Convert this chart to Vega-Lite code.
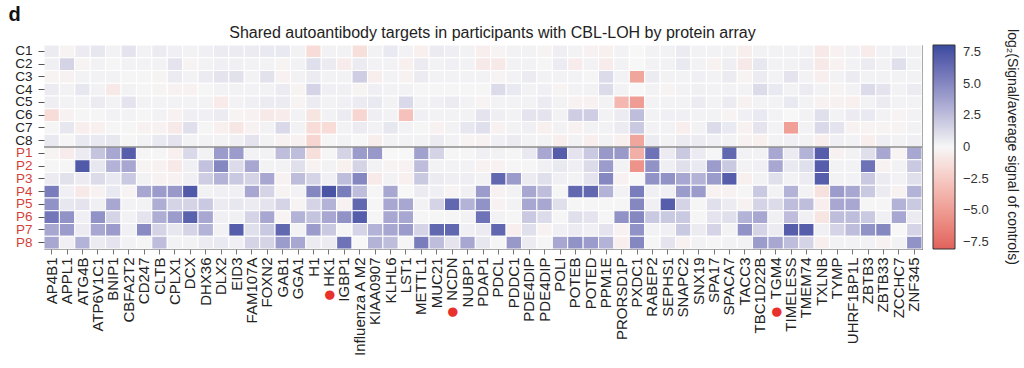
{
"$schema": "https://vega.github.io/schema/vega-lite/v6.json",
"width": 878, "height": 204,
"autosize": {"type": "none"},
"padding": {"left": 44, "top": 45, "right": 102, "bottom": 119},
"background": "white",
"config": {"view": {"stroke": "#555", "strokeWidth": 1}, "font": "Liberation Sans"},
"data": {"values": [
{"r":"C1","g":"AP4B1","v":0.5},{"r":"C1","g":"APPL1","v":-0.2},{"r":"C1","g":"ATG4B","v":0.5},{"r":"C1","g":"ATP6V1C1","v":0.7},{"r":"C1","g":"BNIP1","v":0.2},{"r":"C1","g":"CBFA2T2","v":0.8},{"r":"C1","g":"CD247","v":0.2},{"r":"C1","g":"CLTB","v":0.5},{"r":"C1","g":"CPLX1","v":0.3},{"r":"C1","g":"DCX","v":0.2},{"r":"C1","g":"DHX36","v":0.3},{"r":"C1","g":"DLX2","v":0.5},{"r":"C1","g":"EID3","v":0.5},{"r":"C1","g":"FAM107A","v":0.5},{"r":"C1","g":"FOXN2","v":0.6},{"r":"C1","g":"GAB1","v":0.6},{"r":"C1","g":"GGA1","v":0.2},{"r":"C1","g":"H1","v":-1.5},{"r":"C1","g":"HK1","v":0.2},{"r":"C1","g":"IGBP1","v":0.2},{"r":"C1","g":"Influenza A M2","v":-1.3},{"r":"C1","g":"KIAA0907","v":0.2},{"r":"C1","g":"KLHL6","v":0.6},{"r":"C1","g":"LST1","v":0.2},{"r":"C1","g":"METTL1","v":-0.4},{"r":"C1","g":"MUC21","v":0.5},{"r":"C1","g":"NCDN","v":0.4},{"r":"C1","g":"NUBP1","v":0.2},{"r":"C1","g":"PDAP1","v":-0.5},{"r":"C1","g":"PDCL","v":-0.2},{"r":"C1","g":"PDDC1","v":0.2},{"r":"C1","g":"PDE4DIP","v":0.2},{"r":"C1","g":"PDE4DIP_2","v":-0.2},{"r":"C1","g":"POLI","v":0.4},{"r":"C1","g":"POTEB","v":0.2},{"r":"C1","g":"POTED","v":-0.3},{"r":"C1","g":"PPM1E","v":-0.4},{"r":"C1","g":"PRORSD1P","v":0.2},{"r":"C1","g":"PXDC1","v":0},{"r":"C1","g":"RABEP2","v":0.2},{"r":"C1","g":"SEPHS1","v":0.2},{"r":"C1","g":"SNAPC2","v":0.5},{"r":"C1","g":"SNX19","v":0.2},{"r":"C1","g":"SPA17","v":0.2},{"r":"C1","g":"SPACA7","v":0.2},{"r":"C1","g":"TACC3","v":-0.5},{"r":"C1","g":"TBC1D22B","v":0.2},{"r":"C1","g":"TGM4","v":0.2},{"r":"C1","g":"TIMELESS","v":0.2},{"r":"C1","g":"TMEM74","v":0.2},{"r":"C1","g":"TXLNB","v":-0.8},{"r":"C1","g":"TYMP","v":-0.3},{"r":"C1","g":"UHRF1BP1L","v":0.2},{"r":"C1","g":"ZBTB3","v":-0.6},{"r":"C1","g":"ZBTB33","v":0.2},{"r":"C1","g":"ZCCHC7","v":0.3},{"r":"C1","g":"ZNF345","v":0.2},
{"r":"C2","g":"AP4B1","v":0.3},{"r":"C2","g":"APPL1","v":1.5},{"r":"C2","g":"ATG4B","v":-0.2},{"r":"C2","g":"ATP6V1C1","v":0.2},{"r":"C2","g":"BNIP1","v":0.1},{"r":"C2","g":"CBFA2T2","v":0.2},{"r":"C2","g":"CD247","v":0.2},{"r":"C2","g":"CLTB","v":0.2},{"r":"C2","g":"CPLX1","v":0.8},{"r":"C2","g":"DCX","v":-0.2},{"r":"C2","g":"DHX36","v":0.2},{"r":"C2","g":"DLX2","v":0.3},{"r":"C2","g":"EID3","v":0.3},{"r":"C2","g":"FAM107A","v":0.2},{"r":"C2","g":"FOXN2","v":0.2},{"r":"C2","g":"GAB1","v":-0.2},{"r":"C2","g":"GGA1","v":0.2},{"r":"C2","g":"H1","v":1.0},{"r":"C2","g":"HK1","v":0.5},{"r":"C2","g":"IGBP1","v":-0.6},{"r":"C2","g":"Influenza A M2","v":0.5},{"r":"C2","g":"KIAA0907","v":0.2},{"r":"C2","g":"KLHL6","v":0.2},{"r":"C2","g":"LST1","v":-0.4},{"r":"C2","g":"METTL1","v":0.5},{"r":"C2","g":"MUC21","v":0.2},{"r":"C2","g":"NCDN","v":0.3},{"r":"C2","g":"NUBP1","v":0.2},{"r":"C2","g":"PDAP1","v":-0.8},{"r":"C2","g":"PDCL","v":-0.8},{"r":"C2","g":"PDDC1","v":0.2},{"r":"C2","g":"PDE4DIP","v":0.2},{"r":"C2","g":"PDE4DIP_2","v":0.1},{"r":"C2","g":"POLI","v":0.5},{"r":"C2","g":"POTEB","v":-0.6},{"r":"C2","g":"POTED","v":0.2},{"r":"C2","g":"PPM1E","v":-0.6},{"r":"C2","g":"PRORSD1P","v":0.2},{"r":"C2","g":"PXDC1","v":0},{"r":"C2","g":"RABEP2","v":0.2},{"r":"C2","g":"SEPHS1","v":0.2},{"r":"C2","g":"SNAPC2","v":0.6},{"r":"C2","g":"SNX19","v":0.2},{"r":"C2","g":"SPA17","v":-0.3},{"r":"C2","g":"SPACA7","v":0.4},{"r":"C2","g":"TACC3","v":-0.8},{"r":"C2","g":"TBC1D22B","v":0.7},{"r":"C2","g":"TGM4","v":0.2},{"r":"C2","g":"TIMELESS","v":0.2},{"r":"C2","g":"TMEM74","v":0.4},{"r":"C2","g":"TXLNB","v":-0.8},{"r":"C2","g":"TYMP","v":-0.3},{"r":"C2","g":"UHRF1BP1L","v":0.2},{"r":"C2","g":"ZBTB3","v":0.5},{"r":"C2","g":"ZBTB33","v":0.2},{"r":"C2","g":"ZCCHC7","v":1.0},{"r":"C2","g":"ZNF345","v":0.2},
{"r":"C3","g":"AP4B1","v":-0.2},{"r":"C3","g":"APPL1","v":-0.3},{"r":"C3","g":"ATG4B","v":0.2},{"r":"C3","g":"ATP6V1C1","v":0.2},{"r":"C3","g":"BNIP1","v":0.2},{"r":"C3","g":"CBFA2T2","v":0.1},{"r":"C3","g":"CD247","v":0.1},{"r":"C3","g":"CLTB","v":-0.2},{"r":"C3","g":"CPLX1","v":0.5},{"r":"C3","g":"DCX","v":0.2},{"r":"C3","g":"DHX36","v":0.5},{"r":"C3","g":"DLX2","v":0.8},{"r":"C3","g":"EID3","v":0.9},{"r":"C3","g":"FAM107A","v":0.2},{"r":"C3","g":"FOXN2","v":0.9},{"r":"C3","g":"GAB1","v":-0.3},{"r":"C3","g":"GGA1","v":0.2},{"r":"C3","g":"H1","v":0.5},{"r":"C3","g":"HK1","v":0.2},{"r":"C3","g":"IGBP1","v":0.2},{"r":"C3","g":"Influenza A M2","v":1.8},{"r":"C3","g":"KIAA0907","v":-0.5},{"r":"C3","g":"KLHL6","v":0.2},{"r":"C3","g":"LST1","v":-0.3},{"r":"C3","g":"METTL1","v":0.5},{"r":"C3","g":"MUC21","v":0.2},{"r":"C3","g":"NCDN","v":0.2},{"r":"C3","g":"NUBP1","v":0.2},{"r":"C3","g":"PDAP1","v":0.2},{"r":"C3","g":"PDCL","v":-0.2},{"r":"C3","g":"PDDC1","v":0.2},{"r":"C3","g":"PDE4DIP","v":0.5},{"r":"C3","g":"PDE4DIP_2","v":0.2},{"r":"C3","g":"POLI","v":0.2},{"r":"C3","g":"POTEB","v":0.2},{"r":"C3","g":"POTED","v":0.1},{"r":"C3","g":"PPM1E","v":1.2},{"r":"C3","g":"PRORSD1P","v":0.2},{"r":"C3","g":"PXDC1","v":-4.5},{"r":"C3","g":"RABEP2","v":0.5},{"r":"C3","g":"SEPHS1","v":0.2},{"r":"C3","g":"SNAPC2","v":0.2},{"r":"C3","g":"SNX19","v":0.3},{"r":"C3","g":"SPA17","v":0.2},{"r":"C3","g":"SPACA7","v":0.5},{"r":"C3","g":"TACC3","v":-0.2},{"r":"C3","g":"TBC1D22B","v":0.5},{"r":"C3","g":"TGM4","v":0.2},{"r":"C3","g":"TIMELESS","v":0.8},{"r":"C3","g":"TMEM74","v":0.2},{"r":"C3","g":"TXLNB","v":-0.5},{"r":"C3","g":"TYMP","v":0.2},{"r":"C3","g":"UHRF1BP1L","v":0.5},{"r":"C3","g":"ZBTB3","v":0.2},{"r":"C3","g":"ZBTB33","v":0.2},{"r":"C3","g":"ZCCHC7","v":0.2},{"r":"C3","g":"ZNF345","v":0.2},
{"r":"C4","g":"AP4B1","v":0.5},{"r":"C4","g":"APPL1","v":0.2},{"r":"C4","g":"ATG4B","v":0.7},{"r":"C4","g":"ATP6V1C1","v":0.2},{"r":"C4","g":"BNIP1","v":-0.8},{"r":"C4","g":"CBFA2T2","v":0.2},{"r":"C4","g":"CD247","v":0.1},{"r":"C4","g":"CLTB","v":-0.2},{"r":"C4","g":"CPLX1","v":-0.3},{"r":"C4","g":"DCX","v":-0.3},{"r":"C4","g":"DHX36","v":0.1},{"r":"C4","g":"DLX2","v":0.2},{"r":"C4","g":"EID3","v":0.2},{"r":"C4","g":"FAM107A","v":0.2},{"r":"C4","g":"FOXN2","v":0.2},{"r":"C4","g":"GAB1","v":0.5},{"r":"C4","g":"GGA1","v":-0.2},{"r":"C4","g":"H1","v":1.5},{"r":"C4","g":"HK1","v":0.3},{"r":"C4","g":"IGBP1","v":0.3},{"r":"C4","g":"Influenza A M2","v":-0.2},{"r":"C4","g":"KIAA0907","v":0.3},{"r":"C4","g":"KLHL6","v":0.2},{"r":"C4","g":"LST1","v":0.2},{"r":"C4","g":"METTL1","v":0.1},{"r":"C4","g":"MUC21","v":0.1},{"r":"C4","g":"NCDN","v":0.1},{"r":"C4","g":"NUBP1","v":0.1},{"r":"C4","g":"PDAP1","v":0.1},{"r":"C4","g":"PDCL","v":1.2},{"r":"C4","g":"PDDC1","v":0.6},{"r":"C4","g":"PDE4DIP","v":0.2},{"r":"C4","g":"PDE4DIP_2","v":0.3},{"r":"C4","g":"POLI","v":-0.2},{"r":"C4","g":"POTEB","v":0.2},{"r":"C4","g":"POTED","v":0.2},{"r":"C4","g":"PPM1E","v":1.2},{"r":"C4","g":"PRORSD1P","v":0.2},{"r":"C4","g":"PXDC1","v":0},{"r":"C4","g":"RABEP2","v":0.2},{"r":"C4","g":"SEPHS1","v":-0.2},{"r":"C4","g":"SNAPC2","v":0.2},{"r":"C4","g":"SNX19","v":0.3},{"r":"C4","g":"SPA17","v":0.2},{"r":"C4","g":"SPACA7","v":0.2},{"r":"C4","g":"TACC3","v":0.2},{"r":"C4","g":"TBC1D22B","v":1.2},{"r":"C4","g":"TGM4","v":0.6},{"r":"C4","g":"TIMELESS","v":0.2},{"r":"C4","g":"TMEM74","v":0.5},{"r":"C4","g":"TXLNB","v":0.2},{"r":"C4","g":"TYMP","v":-0.2},{"r":"C4","g":"UHRF1BP1L","v":0.2},{"r":"C4","g":"ZBTB3","v":1.2},{"r":"C4","g":"ZBTB33","v":0.8},{"r":"C4","g":"ZCCHC7","v":0.2},{"r":"C4","g":"ZNF345","v":0.5},
{"r":"C5","g":"AP4B1","v":0.4},{"r":"C5","g":"APPL1","v":0.2},{"r":"C5","g":"ATG4B","v":0.2},{"r":"C5","g":"ATP6V1C1","v":0.5},{"r":"C5","g":"BNIP1","v":0.2},{"r":"C5","g":"CBFA2T2","v":0.8},{"r":"C5","g":"CD247","v":0.2},{"r":"C5","g":"CLTB","v":0.2},{"r":"C5","g":"CPLX1","v":0.2},{"r":"C5","g":"DCX","v":0.2},{"r":"C5","g":"DHX36","v":0.2},{"r":"C5","g":"DLX2","v":-0.7},{"r":"C5","g":"EID3","v":0.2},{"r":"C5","g":"FAM107A","v":0.3},{"r":"C5","g":"FOXN2","v":0.5},{"r":"C5","g":"GAB1","v":0.5},{"r":"C5","g":"GGA1","v":-0.2},{"r":"C5","g":"H1","v":0.5},{"r":"C5","g":"HK1","v":0.2},{"r":"C5","g":"IGBP1","v":0.3},{"r":"C5","g":"Influenza A M2","v":0.5},{"r":"C5","g":"KIAA0907","v":0.6},{"r":"C5","g":"KLHL6","v":0.2},{"r":"C5","g":"LST1","v":1.3},{"r":"C5","g":"METTL1","v":0.2},{"r":"C5","g":"MUC21","v":0.3},{"r":"C5","g":"NCDN","v":0.5},{"r":"C5","g":"NUBP1","v":0.2},{"r":"C5","g":"PDAP1","v":-0.2},{"r":"C5","g":"PDCL","v":0.2},{"r":"C5","g":"PDDC1","v":0.2},{"r":"C5","g":"PDE4DIP","v":0.2},{"r":"C5","g":"PDE4DIP_2","v":0.5},{"r":"C5","g":"POLI","v":0.2},{"r":"C5","g":"POTEB","v":-0.3},{"r":"C5","g":"POTED","v":-0.3},{"r":"C5","g":"PPM1E","v":0.2},{"r":"C5","g":"PRORSD1P","v":-3.5},{"r":"C5","g":"PXDC1","v":-5.0},{"r":"C5","g":"RABEP2","v":0.2},{"r":"C5","g":"SEPHS1","v":0.2},{"r":"C5","g":"SNAPC2","v":0.2},{"r":"C5","g":"SNX19","v":0.5},{"r":"C5","g":"SPA17","v":0.2},{"r":"C5","g":"SPACA7","v":0.5},{"r":"C5","g":"TACC3","v":-0.3},{"r":"C5","g":"TBC1D22B","v":0.2},{"r":"C5","g":"TGM4","v":0.2},{"r":"C5","g":"TIMELESS","v":0.6},{"r":"C5","g":"TMEM74","v":0.2},{"r":"C5","g":"TXLNB","v":-0.3},{"r":"C5","g":"TYMP","v":-0.3},{"r":"C5","g":"UHRF1BP1L","v":-0.4},{"r":"C5","g":"ZBTB3","v":0.2},{"r":"C5","g":"ZBTB33","v":0.5},{"r":"C5","g":"ZCCHC7","v":0.2},{"r":"C5","g":"ZNF345","v":0.2},
{"r":"C6","g":"AP4B1","v":-1.5},{"r":"C6","g":"APPL1","v":-0.3},{"r":"C6","g":"ATG4B","v":0.1},{"r":"C6","g":"ATP6V1C1","v":0.1},{"r":"C6","g":"BNIP1","v":0.2},{"r":"C6","g":"CBFA2T2","v":0.2},{"r":"C6","g":"CD247","v":0.1},{"r":"C6","g":"CLTB","v":0.2},{"r":"C6","g":"CPLX1","v":-0.3},{"r":"C6","g":"DCX","v":0.4},{"r":"C6","g":"DHX36","v":0.3},{"r":"C6","g":"DLX2","v":0.5},{"r":"C6","g":"EID3","v":-0.2},{"r":"C6","g":"FAM107A","v":-0.3},{"r":"C6","g":"FOXN2","v":-0.8},{"r":"C6","g":"GAB1","v":-0.6},{"r":"C6","g":"GGA1","v":0.2},{"r":"C6","g":"H1","v":-1.0},{"r":"C6","g":"HK1","v":0.2},{"r":"C6","g":"IGBP1","v":0.5},{"r":"C6","g":"Influenza A M2","v":-1.8},{"r":"C6","g":"KIAA0907","v":0.4},{"r":"C6","g":"KLHL6","v":0.2},{"r":"C6","g":"LST1","v":-3.0},{"r":"C6","g":"METTL1","v":0.3},{"r":"C6","g":"MUC21","v":0.2},{"r":"C6","g":"NCDN","v":0.2},{"r":"C6","g":"NUBP1","v":0.2},{"r":"C6","g":"PDAP1","v":0.8},{"r":"C6","g":"PDCL","v":0.4},{"r":"C6","g":"PDDC1","v":0.2},{"r":"C6","g":"PDE4DIP","v":0.8},{"r":"C6","g":"PDE4DIP_2","v":0.8},{"r":"C6","g":"POLI","v":0.2},{"r":"C6","g":"POTEB","v":1.8},{"r":"C6","g":"POTED","v":1.8},{"r":"C6","g":"PPM1E","v":0.2},{"r":"C6","g":"PRORSD1P","v":0.5},{"r":"C6","g":"PXDC1","v":2.5},{"r":"C6","g":"RABEP2","v":0.2},{"r":"C6","g":"SEPHS1","v":0.3},{"r":"C6","g":"SNAPC2","v":0.3},{"r":"C6","g":"SNX19","v":0.2},{"r":"C6","g":"SPA17","v":0.2},{"r":"C6","g":"SPACA7","v":-0.2},{"r":"C6","g":"TACC3","v":0.3},{"r":"C6","g":"TBC1D22B","v":0.6},{"r":"C6","g":"TGM4","v":0.2},{"r":"C6","g":"TIMELESS","v":0},{"r":"C6","g":"TMEM74","v":0.2},{"r":"C6","g":"TXLNB","v":1.0},{"r":"C6","g":"TYMP","v":0.2},{"r":"C6","g":"UHRF1BP1L","v":0.5},{"r":"C6","g":"ZBTB3","v":0.6},{"r":"C6","g":"ZBTB33","v":0.2},{"r":"C6","g":"ZCCHC7","v":-0.2},{"r":"C6","g":"ZNF345","v":0.2},
{"r":"C7","g":"AP4B1","v":0.1},{"r":"C7","g":"APPL1","v":0.7},{"r":"C7","g":"ATG4B","v":-0.5},{"r":"C7","g":"ATP6V1C1","v":-0.4},{"r":"C7","g":"BNIP1","v":0.1},{"r":"C7","g":"CBFA2T2","v":0.1},{"r":"C7","g":"CD247","v":-0.3},{"r":"C7","g":"CLTB","v":-0.3},{"r":"C7","g":"CPLX1","v":-0.8},{"r":"C7","g":"DCX","v":1.0},{"r":"C7","g":"DHX36","v":0.1},{"r":"C7","g":"DLX2","v":-0.4},{"r":"C7","g":"EID3","v":-0.9},{"r":"C7","g":"FAM107A","v":-0.3},{"r":"C7","g":"FOXN2","v":0.2},{"r":"C7","g":"GAB1","v":1.3},{"r":"C7","g":"GGA1","v":0.2},{"r":"C7","g":"H1","v":-1.5},{"r":"C7","g":"HK1","v":-1.5},{"r":"C7","g":"IGBP1","v":0.2},{"r":"C7","g":"Influenza A M2","v":0.5},{"r":"C7","g":"KIAA0907","v":0.2},{"r":"C7","g":"KLHL6","v":0.7},{"r":"C7","g":"LST1","v":0.2},{"r":"C7","g":"METTL1","v":0.1},{"r":"C7","g":"MUC21","v":-0.3},{"r":"C7","g":"NCDN","v":0.2},{"r":"C7","g":"NUBP1","v":0.7},{"r":"C7","g":"PDAP1","v":1.0},{"r":"C7","g":"PDCL","v":-0.3},{"r":"C7","g":"PDDC1","v":0.2},{"r":"C7","g":"PDE4DIP","v":0.3},{"r":"C7","g":"PDE4DIP_2","v":-0.4},{"r":"C7","g":"POLI","v":0.2},{"r":"C7","g":"POTEB","v":-0.3},{"r":"C7","g":"POTED","v":0.2},{"r":"C7","g":"PPM1E","v":0.2},{"r":"C7","g":"PRORSD1P","v":0.5},{"r":"C7","g":"PXDC1","v":2.0},{"r":"C7","g":"RABEP2","v":0.2},{"r":"C7","g":"SEPHS1","v":0.2},{"r":"C7","g":"SNAPC2","v":-0.5},{"r":"C7","g":"SNX19","v":0.2},{"r":"C7","g":"SPA17","v":1.2},{"r":"C7","g":"SPACA7","v":0.6},{"r":"C7","g":"TACC3","v":-0.3},{"r":"C7","g":"TBC1D22B","v":0.8},{"r":"C7","g":"TGM4","v":0.2},{"r":"C7","g":"TIMELESS","v":-4.8},{"r":"C7","g":"TMEM74","v":0.2},{"r":"C7","g":"TXLNB","v":1.3},{"r":"C7","g":"TYMP","v":0.8},{"r":"C7","g":"UHRF1BP1L","v":-0.3},{"r":"C7","g":"ZBTB3","v":-0.2},{"r":"C7","g":"ZBTB33","v":-0.2},{"r":"C7","g":"ZCCHC7","v":-0.2},{"r":"C7","g":"ZNF345","v":0.2},
{"r":"C8","g":"AP4B1","v":0.6},{"r":"C8","g":"APPL1","v":0.1},{"r":"C8","g":"ATG4B","v":0.6},{"r":"C8","g":"ATP6V1C1","v":0.6},{"r":"C8","g":"BNIP1","v":0.7},{"r":"C8","g":"CBFA2T2","v":0.1},{"r":"C8","g":"CD247","v":0.2},{"r":"C8","g":"CLTB","v":0.6},{"r":"C8","g":"CPLX1","v":0.8},{"r":"C8","g":"DCX","v":0.2},{"r":"C8","g":"DHX36","v":0.2},{"r":"C8","g":"DLX2","v":0.2},{"r":"C8","g":"EID3","v":0.3},{"r":"C8","g":"FAM107A","v":0.8},{"r":"C8","g":"FOXN2","v":0.2},{"r":"C8","g":"GAB1","v":-0.3},{"r":"C8","g":"GGA1","v":-0.3},{"r":"C8","g":"H1","v":-1.8},{"r":"C8","g":"HK1","v":0.1},{"r":"C8","g":"IGBP1","v":0.2},{"r":"C8","g":"Influenza A M2","v":0},{"r":"C8","g":"KIAA0907","v":-0.5},{"r":"C8","g":"KLHL6","v":0.2},{"r":"C8","g":"LST1","v":0.2},{"r":"C8","g":"METTL1","v":0.2},{"r":"C8","g":"MUC21","v":0.5},{"r":"C8","g":"NCDN","v":0.2},{"r":"C8","g":"NUBP1","v":-0.2},{"r":"C8","g":"PDAP1","v":-0.3},{"r":"C8","g":"PDCL","v":0.3},{"r":"C8","g":"PDDC1","v":0.5},{"r":"C8","g":"PDE4DIP","v":0.2},{"r":"C8","g":"PDE4DIP_2","v":0.2},{"r":"C8","g":"POLI","v":-0.5},{"r":"C8","g":"POTEB","v":0.2},{"r":"C8","g":"POTED","v":-0.5},{"r":"C8","g":"PPM1E","v":0.2},{"r":"C8","g":"PRORSD1P","v":-0.4},{"r":"C8","g":"PXDC1","v":-4.5},{"r":"C8","g":"RABEP2","v":0.5},{"r":"C8","g":"SEPHS1","v":0.2},{"r":"C8","g":"SNAPC2","v":0.5},{"r":"C8","g":"SNX19","v":0.5},{"r":"C8","g":"SPA17","v":0.3},{"r":"C8","g":"SPACA7","v":0.2},{"r":"C8","g":"TACC3","v":-0.3},{"r":"C8","g":"TBC1D22B","v":-0.4},{"r":"C8","g":"TGM4","v":0.2},{"r":"C8","g":"TIMELESS","v":0.3},{"r":"C8","g":"TMEM74","v":0.2},{"r":"C8","g":"TXLNB","v":-0.5},{"r":"C8","g":"TYMP","v":0.3},{"r":"C8","g":"UHRF1BP1L","v":0.2},{"r":"C8","g":"ZBTB3","v":-0.5},{"r":"C8","g":"ZBTB33","v":0.4},{"r":"C8","g":"ZCCHC7","v":0.2},{"r":"C8","g":"ZNF345","v":0.3},
{"r":"P1","g":"AP4B1","v":-0.2},{"r":"P1","g":"APPL1","v":-0.6},{"r":"P1","g":"ATG4B","v":0.5},{"r":"P1","g":"ATP6V1C1","v":2.2},{"r":"P1","g":"BNIP1","v":3.5},{"r":"P1","g":"CBFA2T2","v":7.0},{"r":"P1","g":"CD247","v":0.1},{"r":"P1","g":"CLTB","v":0.1},{"r":"P1","g":"CPLX1","v":-0.4},{"r":"P1","g":"DCX","v":1.3},{"r":"P1","g":"DHX36","v":0.2},{"r":"P1","g":"DLX2","v":4.0},{"r":"P1","g":"EID3","v":4.0},{"r":"P1","g":"FAM107A","v":0.2},{"r":"P1","g":"FOXN2","v":0.2},{"r":"P1","g":"GAB1","v":2.5},{"r":"P1","g":"GGA1","v":2.5},{"r":"P1","g":"H1","v":-1.3},{"r":"P1","g":"HK1","v":0.1},{"r":"P1","g":"IGBP1","v":1.5},{"r":"P1","g":"Influenza A M2","v":4.0},{"r":"P1","g":"KIAA0907","v":4.2},{"r":"P1","g":"KLHL6","v":0},{"r":"P1","g":"LST1","v":0},{"r":"P1","g":"METTL1","v":3.8},{"r":"P1","g":"MUC21","v":1.5},{"r":"P1","g":"NCDN","v":0.1},{"r":"P1","g":"NUBP1","v":0.1},{"r":"P1","g":"PDAP1","v":0.3},{"r":"P1","g":"PDCL","v":0.2},{"r":"P1","g":"PDDC1","v":0.1},{"r":"P1","g":"PDE4DIP","v":0.6},{"r":"P1","g":"PDE4DIP_2","v":3.5},{"r":"P1","g":"POLI","v":7.0},{"r":"P1","g":"POTEB","v":0.8},{"r":"P1","g":"POTED","v":2.0},{"r":"P1","g":"PPM1E","v":4.2},{"r":"P1","g":"PRORSD1P","v":4.2},{"r":"P1","g":"PXDC1","v":-4.0},{"r":"P1","g":"RABEP2","v":6.0},{"r":"P1","g":"SEPHS1","v":0.5},{"r":"P1","g":"SNAPC2","v":2.0},{"r":"P1","g":"SNX19","v":0.5},{"r":"P1","g":"SPA17","v":0.1},{"r":"P1","g":"SPACA7","v":6.5},{"r":"P1","g":"TACC3","v":0.2},{"r":"P1","g":"TBC1D22B","v":0.2},{"r":"P1","g":"TGM4","v":3.5},{"r":"P1","g":"TIMELESS","v":0.5},{"r":"P1","g":"TMEM74","v":3.0},{"r":"P1","g":"TXLNB","v":7.0},{"r":"P1","g":"TYMP","v":-0.3},{"r":"P1","g":"UHRF1BP1L","v":0.2},{"r":"P1","g":"ZBTB3","v":1.0},{"r":"P1","g":"ZBTB33","v":3.5},{"r":"P1","g":"ZCCHC7","v":-0.2},{"r":"P1","g":"ZNF345","v":3.5},
{"r":"P2","g":"AP4B1","v":0.1},{"r":"P2","g":"APPL1","v":0.1},{"r":"P2","g":"ATG4B","v":7.2},{"r":"P2","g":"ATP6V1C1","v":0.7},{"r":"P2","g":"BNIP1","v":3.0},{"r":"P2","g":"CBFA2T2","v":3.5},{"r":"P2","g":"CD247","v":-0.2},{"r":"P2","g":"CLTB","v":-0.3},{"r":"P2","g":"CPLX1","v":-0.8},{"r":"P2","g":"DCX","v":0.3},{"r":"P2","g":"DHX36","v":2.3},{"r":"P2","g":"DLX2","v":5.0},{"r":"P2","g":"EID3","v":1.2},{"r":"P2","g":"FAM107A","v":3.5},{"r":"P2","g":"FOXN2","v":0.2},{"r":"P2","g":"GAB1","v":0.2},{"r":"P2","g":"GGA1","v":1.0},{"r":"P2","g":"H1","v":-0.3},{"r":"P2","g":"HK1","v":0.2},{"r":"P2","g":"IGBP1","v":-0.4},{"r":"P2","g":"Influenza A M2","v":1.5},{"r":"P2","g":"KIAA0907","v":0.2},{"r":"P2","g":"KLHL6","v":-0.2},{"r":"P2","g":"LST1","v":-0.3},{"r":"P2","g":"METTL1","v":2.5},{"r":"P2","g":"MUC21","v":0.2},{"r":"P2","g":"NCDN","v":0.2},{"r":"P2","g":"NUBP1","v":0.2},{"r":"P2","g":"PDAP1","v":-0.3},{"r":"P2","g":"PDCL","v":-0.3},{"r":"P2","g":"PDDC1","v":0.1},{"r":"P2","g":"PDE4DIP","v":0.1},{"r":"P2","g":"PDE4DIP_2","v":0.3},{"r":"P2","g":"POLI","v":0.6},{"r":"P2","g":"POTEB","v":0.4},{"r":"P2","g":"POTED","v":1.2},{"r":"P2","g":"PPM1E","v":4.0},{"r":"P2","g":"PRORSD1P","v":0.2},{"r":"P2","g":"PXDC1","v":-5.5},{"r":"P2","g":"RABEP2","v":4.5},{"r":"P2","g":"SEPHS1","v":0.4},{"r":"P2","g":"SNAPC2","v":1.0},{"r":"P2","g":"SNX19","v":0.6},{"r":"P2","g":"SPA17","v":4.0},{"r":"P2","g":"SPACA7","v":2.0},{"r":"P2","g":"TACC3","v":0.2},{"r":"P2","g":"TBC1D22B","v":0.3},{"r":"P2","g":"TGM4","v":3.5},{"r":"P2","g":"TIMELESS","v":0.6},{"r":"P2","g":"TMEM74","v":1.0},{"r":"P2","g":"TXLNB","v":7.0},{"r":"P2","g":"TYMP","v":0.2},{"r":"P2","g":"UHRF1BP1L","v":0.2},{"r":"P2","g":"ZBTB3","v":6.0},{"r":"P2","g":"ZBTB33","v":-0.3},{"r":"P2","g":"ZCCHC7","v":0.2},{"r":"P2","g":"ZNF345","v":2.0},
{"r":"P3","g":"AP4B1","v":0.5},{"r":"P3","g":"APPL1","v":0.9},{"r":"P3","g":"ATG4B","v":0.5},{"r":"P3","g":"ATP6V1C1","v":1.2},{"r":"P3","g":"BNIP1","v":0.6},{"r":"P3","g":"CBFA2T2","v":2.0},{"r":"P3","g":"CD247","v":0.2},{"r":"P3","g":"CLTB","v":-0.3},{"r":"P3","g":"CPLX1","v":-0.3},{"r":"P3","g":"DCX","v":0.3},{"r":"P3","g":"DHX36","v":1.8},{"r":"P3","g":"DLX2","v":3.0},{"r":"P3","g":"EID3","v":2.0},{"r":"P3","g":"FAM107A","v":1.5},{"r":"P3","g":"FOXN2","v":3.5},{"r":"P3","g":"GAB1","v":-0.3},{"r":"P3","g":"GGA1","v":2.5},{"r":"P3","g":"H1","v":1.5},{"r":"P3","g":"HK1","v":0.3},{"r":"P3","g":"IGBP1","v":2.5},{"r":"P3","g":"Influenza A M2","v":5.0},{"r":"P3","g":"KIAA0907","v":-0.7},{"r":"P3","g":"KLHL6","v":0.2},{"r":"P3","g":"LST1","v":-0.4},{"r":"P3","g":"METTL1","v":2.0},{"r":"P3","g":"MUC21","v":0.5},{"r":"P3","g":"NCDN","v":0.4},{"r":"P3","g":"NUBP1","v":0.4},{"r":"P3","g":"PDAP1","v":0.2},{"r":"P3","g":"PDCL","v":6.5},{"r":"P3","g":"PDDC1","v":4.0},{"r":"P3","g":"PDE4DIP","v":0.5},{"r":"P3","g":"PDE4DIP_2","v":1.0},{"r":"P3","g":"POLI","v":0.3},{"r":"P3","g":"POTEB","v":0.2},{"r":"P3","g":"POTED","v":0.8},{"r":"P3","g":"PPM1E","v":5.0},{"r":"P3","g":"PRORSD1P","v":-0.3},{"r":"P3","g":"PXDC1","v":0},{"r":"P3","g":"RABEP2","v":4.5},{"r":"P3","g":"SEPHS1","v":4.5},{"r":"P3","g":"SNAPC2","v":3.5},{"r":"P3","g":"SNX19","v":3.0},{"r":"P3","g":"SPA17","v":4.0},{"r":"P3","g":"SPACA7","v":7.0},{"r":"P3","g":"TACC3","v":-0.4},{"r":"P3","g":"TBC1D22B","v":0.2},{"r":"P3","g":"TGM4","v":1.0},{"r":"P3","g":"TIMELESS","v":0.2},{"r":"P3","g":"TMEM74","v":0.5},{"r":"P3","g":"TXLNB","v":7.0},{"r":"P3","g":"TYMP","v":0.2},{"r":"P3","g":"UHRF1BP1L","v":0.2},{"r":"P3","g":"ZBTB3","v":2.0},{"r":"P3","g":"ZBTB33","v":0.5},{"r":"P3","g":"ZCCHC7","v":0.2},{"r":"P3","g":"ZNF345","v":1.0},
{"r":"P4","g":"AP4B1","v":5.5},{"r":"P4","g":"APPL1","v":0.3},{"r":"P4","g":"ATG4B","v":-0.8},{"r":"P4","g":"ATP6V1C1","v":-0.3},{"r":"P4","g":"BNIP1","v":0.6},{"r":"P4","g":"CBFA2T2","v":-0.2},{"r":"P4","g":"CD247","v":3.5},{"r":"P4","g":"CLTB","v":4.0},{"r":"P4","g":"CPLX1","v":4.2},{"r":"P4","g":"DCX","v":7.2},{"r":"P4","g":"DHX36","v":0.2},{"r":"P4","g":"DLX2","v":0.3},{"r":"P4","g":"EID3","v":0.3},{"r":"P4","g":"FAM107A","v":3.5},{"r":"P4","g":"FOXN2","v":1.5},{"r":"P4","g":"GAB1","v":-0.2},{"r":"P4","g":"GGA1","v":0.2},{"r":"P4","g":"H1","v":5.0},{"r":"P4","g":"HK1","v":7.5},{"r":"P4","g":"IGBP1","v":5.5},{"r":"P4","g":"Influenza A M2","v":2.5},{"r":"P4","g":"KIAA0907","v":0.1},{"r":"P4","g":"KLHL6","v":3.5},{"r":"P4","g":"LST1","v":0},{"r":"P4","g":"METTL1","v":0.5},{"r":"P4","g":"MUC21","v":0.3},{"r":"P4","g":"NCDN","v":-0.2},{"r":"P4","g":"NUBP1","v":0.3},{"r":"P4","g":"PDAP1","v":4.0},{"r":"P4","g":"PDCL","v":-0.3},{"r":"P4","g":"PDDC1","v":0.2},{"r":"P4","g":"PDE4DIP","v":3.5},{"r":"P4","g":"PDE4DIP_2","v":2.5},{"r":"P4","g":"POLI","v":0.1},{"r":"P4","g":"POTEB","v":6.5},{"r":"P4","g":"POTED","v":6.5},{"r":"P4","g":"PPM1E","v":3.0},{"r":"P4","g":"PRORSD1P","v":0.2},{"r":"P4","g":"PXDC1","v":5.5},{"r":"P4","g":"RABEP2","v":0.3},{"r":"P4","g":"SEPHS1","v":0.3},{"r":"P4","g":"SNAPC2","v":4.0},{"r":"P4","g":"SNX19","v":4.0},{"r":"P4","g":"SPA17","v":-0.3},{"r":"P4","g":"SPACA7","v":-0.3},{"r":"P4","g":"TACC3","v":0.1},{"r":"P4","g":"TBC1D22B","v":2.0},{"r":"P4","g":"TGM4","v":0.2},{"r":"P4","g":"TIMELESS","v":3.0},{"r":"P4","g":"TMEM74","v":0.2},{"r":"P4","g":"TXLNB","v":-1.2},{"r":"P4","g":"TYMP","v":4.0},{"r":"P4","g":"UHRF1BP1L","v":3.5},{"r":"P4","g":"ZBTB3","v":2.0},{"r":"P4","g":"ZBTB33","v":0.5},{"r":"P4","g":"ZCCHC7","v":-0.3},{"r":"P4","g":"ZNF345","v":3.0},
{"r":"P5","g":"AP4B1","v":4.5},{"r":"P5","g":"APPL1","v":0.7},{"r":"P5","g":"ATG4B","v":0.8},{"r":"P5","g":"ATP6V1C1","v":0.3},{"r":"P5","g":"BNIP1","v":3.5},{"r":"P5","g":"CBFA2T2","v":0.2},{"r":"P5","g":"CD247","v":0.2},{"r":"P5","g":"CLTB","v":3.2},{"r":"P5","g":"CPLX1","v":1.5},{"r":"P5","g":"DCX","v":1.5},{"r":"P5","g":"DHX36","v":2.0},{"r":"P5","g":"DLX2","v":0.5},{"r":"P5","g":"EID3","v":0.7},{"r":"P5","g":"FAM107A","v":0.5},{"r":"P5","g":"FOXN2","v":0.8},{"r":"P5","g":"GAB1","v":1.5},{"r":"P5","g":"GGA1","v":-0.2},{"r":"P5","g":"H1","v":1.5},{"r":"P5","g":"HK1","v":3.0},{"r":"P5","g":"IGBP1","v":-0.3},{"r":"P5","g":"Influenza A M2","v":6.5},{"r":"P5","g":"KIAA0907","v":0.1},{"r":"P5","g":"KLHL6","v":3.5},{"r":"P5","g":"LST1","v":3.5},{"r":"P5","g":"METTL1","v":0.2},{"r":"P5","g":"MUC21","v":1.5},{"r":"P5","g":"NCDN","v":6.5},{"r":"P5","g":"NUBP1","v":3.0},{"r":"P5","g":"PDAP1","v":4.5},{"r":"P5","g":"PDCL","v":-0.3},{"r":"P5","g":"PDDC1","v":0.2},{"r":"P5","g":"PDE4DIP","v":3.5},{"r":"P5","g":"PDE4DIP_2","v":3.5},{"r":"P5","g":"POLI","v":1.0},{"r":"P5","g":"POTEB","v":0.1},{"r":"P5","g":"POTED","v":0.1},{"r":"P5","g":"PPM1E","v":0.1},{"r":"P5","g":"PRORSD1P","v":0.1},{"r":"P5","g":"PXDC1","v":5.0},{"r":"P5","g":"RABEP2","v":0.3},{"r":"P5","g":"SEPHS1","v":7.0},{"r":"P5","g":"SNAPC2","v":1.5},{"r":"P5","g":"SNX19","v":0.1},{"r":"P5","g":"SPA17","v":1.0},{"r":"P5","g":"SPACA7","v":0.5},{"r":"P5","g":"TACC3","v":-0.3},{"r":"P5","g":"TBC1D22B","v":1.5},{"r":"P5","g":"TGM4","v":1.2},{"r":"P5","g":"TIMELESS","v":2.5},{"r":"P5","g":"TMEM74","v":2.5},{"r":"P5","g":"TXLNB","v":-0.5},{"r":"P5","g":"TYMP","v":3.5},{"r":"P5","g":"UHRF1BP1L","v":3.5},{"r":"P5","g":"ZBTB3","v":0.1},{"r":"P5","g":"ZBTB33","v":0.1},{"r":"P5","g":"ZCCHC7","v":3.0},{"r":"P5","g":"ZNF345","v":2.0},
{"r":"P6","g":"AP4B1","v":5.8},{"r":"P6","g":"APPL1","v":4.5},{"r":"P6","g":"ATG4B","v":0.3},{"r":"P6","g":"ATP6V1C1","v":4.5},{"r":"P6","g":"BNIP1","v":1.5},{"r":"P6","g":"CBFA2T2","v":0.2},{"r":"P6","g":"CD247","v":0.8},{"r":"P6","g":"CLTB","v":3.2},{"r":"P6","g":"CPLX1","v":4.0},{"r":"P6","g":"DCX","v":6.8},{"r":"P6","g":"DHX36","v":3.5},{"r":"P6","g":"DLX2","v":0.3},{"r":"P6","g":"EID3","v":0.3},{"r":"P6","g":"FAM107A","v":1.5},{"r":"P6","g":"FOXN2","v":3.5},{"r":"P6","g":"GAB1","v":-0.2},{"r":"P6","g":"GGA1","v":3.0},{"r":"P6","g":"H1","v":2.2},{"r":"P6","g":"HK1","v":3.5},{"r":"P6","g":"IGBP1","v":4.5},{"r":"P6","g":"Influenza A M2","v":7.0},{"r":"P6","g":"KIAA0907","v":0.1},{"r":"P6","g":"KLHL6","v":3.5},{"r":"P6","g":"LST1","v":3.5},{"r":"P6","g":"METTL1","v":0.1},{"r":"P6","g":"MUC21","v":0.1},{"r":"P6","g":"NCDN","v":0.1},{"r":"P6","g":"NUBP1","v":0.2},{"r":"P6","g":"PDAP1","v":6.0},{"r":"P6","g":"PDCL","v":0.2},{"r":"P6","g":"PDDC1","v":0.1},{"r":"P6","g":"PDE4DIP","v":2.0},{"r":"P6","g":"PDE4DIP_2","v":1.2},{"r":"P6","g":"POLI","v":0.1},{"r":"P6","g":"POTEB","v":1.0},{"r":"P6","g":"POTED","v":0.8},{"r":"P6","g":"PPM1E","v":0.1},{"r":"P6","g":"PRORSD1P","v":4.5},{"r":"P6","g":"PXDC1","v":5.0},{"r":"P6","g":"RABEP2","v":2.0},{"r":"P6","g":"SEPHS1","v":2.0},{"r":"P6","g":"SNAPC2","v":2.0},{"r":"P6","g":"SNX19","v":0.1},{"r":"P6","g":"SPA17","v":0.8},{"r":"P6","g":"SPACA7","v":1.0},{"r":"P6","g":"TACC3","v":3.0},{"r":"P6","g":"TBC1D22B","v":3.5},{"r":"P6","g":"TGM4","v":0.3},{"r":"P6","g":"TIMELESS","v":2.5},{"r":"P6","g":"TMEM74","v":0.3},{"r":"P6","g":"TXLNB","v":-1.0},{"r":"P6","g":"TYMP","v":2.5},{"r":"P6","g":"UHRF1BP1L","v":2.5},{"r":"P6","g":"ZBTB3","v":2.0},{"r":"P6","g":"ZBTB33","v":0.3},{"r":"P6","g":"ZCCHC7","v":3.5},{"r":"P6","g":"ZNF345","v":0.5},
{"r":"P7","g":"AP4B1","v":3.5},{"r":"P7","g":"APPL1","v":4.0},{"r":"P7","g":"ATG4B","v":0.5},{"r":"P7","g":"ATP6V1C1","v":3.5},{"r":"P7","g":"BNIP1","v":4.0},{"r":"P7","g":"CBFA2T2","v":0.3},{"r":"P7","g":"CD247","v":4.8},{"r":"P7","g":"CLTB","v":1.5},{"r":"P7","g":"CPLX1","v":0.7},{"r":"P7","g":"DCX","v":1.5},{"r":"P7","g":"DHX36","v":3.0},{"r":"P7","g":"DLX2","v":0.2},{"r":"P7","g":"EID3","v":7.0},{"r":"P7","g":"FAM107A","v":1.0},{"r":"P7","g":"FOXN2","v":2.0},{"r":"P7","g":"GAB1","v":6.5},{"r":"P7","g":"GGA1","v":0.2},{"r":"P7","g":"H1","v":4.0},{"r":"P7","g":"HK1","v":2.0},{"r":"P7","g":"IGBP1","v":0.1},{"r":"P7","g":"Influenza A M2","v":1.5},{"r":"P7","g":"KIAA0907","v":3.0},{"r":"P7","g":"KLHL6","v":3.5},{"r":"P7","g":"LST1","v":4.0},{"r":"P7","g":"METTL1","v":1.5},{"r":"P7","g":"MUC21","v":6.5},{"r":"P7","g":"NCDN","v":6.5},{"r":"P7","g":"NUBP1","v":0.3},{"r":"P7","g":"PDAP1","v":0.5},{"r":"P7","g":"PDCL","v":6.5},{"r":"P7","g":"PDDC1","v":-0.5},{"r":"P7","g":"PDE4DIP","v":1.0},{"r":"P7","g":"PDE4DIP_2","v":-0.3},{"r":"P7","g":"POLI","v":0.3},{"r":"P7","g":"POTEB","v":0.5},{"r":"P7","g":"POTED","v":0.3},{"r":"P7","g":"PPM1E","v":0.8},{"r":"P7","g":"PRORSD1P","v":-0.3},{"r":"P7","g":"PXDC1","v":4.5},{"r":"P7","g":"RABEP2","v":0.2},{"r":"P7","g":"SEPHS1","v":0.3},{"r":"P7","g":"SNAPC2","v":2.0},{"r":"P7","g":"SNX19","v":0.5},{"r":"P7","g":"SPA17","v":1.5},{"r":"P7","g":"SPACA7","v":0.2},{"r":"P7","g":"TACC3","v":4.5},{"r":"P7","g":"TBC1D22B","v":1.5},{"r":"P7","g":"TGM4","v":0.5},{"r":"P7","g":"TIMELESS","v":7.0},{"r":"P7","g":"TMEM74","v":7.0},{"r":"P7","g":"TXLNB","v":0.3},{"r":"P7","g":"TYMP","v":1.5},{"r":"P7","g":"UHRF1BP1L","v":2.5},{"r":"P7","g":"ZBTB3","v":4.5},{"r":"P7","g":"ZBTB33","v":5.0},{"r":"P7","g":"ZCCHC7","v":0},{"r":"P7","g":"ZNF345","v":1.5},
{"r":"P8","g":"AP4B1","v":3.5},{"r":"P8","g":"APPL1","v":0.3},{"r":"P8","g":"ATG4B","v":3.0},{"r":"P8","g":"ATP6V1C1","v":0.5},{"r":"P8","g":"BNIP1","v":0.8},{"r":"P8","g":"CBFA2T2","v":0.2},{"r":"P8","g":"CD247","v":0.1},{"r":"P8","g":"CLTB","v":2.5},{"r":"P8","g":"CPLX1","v":0.2},{"r":"P8","g":"DCX","v":0.2},{"r":"P8","g":"DHX36","v":0.5},{"r":"P8","g":"DLX2","v":0.6},{"r":"P8","g":"EID3","v":0.3},{"r":"P8","g":"FAM107A","v":1.5},{"r":"P8","g":"FOXN2","v":1.5},{"r":"P8","g":"GAB1","v":4.0},{"r":"P8","g":"GGA1","v":3.5},{"r":"P8","g":"H1","v":0.5},{"r":"P8","g":"HK1","v":0.5},{"r":"P8","g":"IGBP1","v":6.0},{"r":"P8","g":"Influenza A M2","v":0},{"r":"P8","g":"KIAA0907","v":3.0},{"r":"P8","g":"KLHL6","v":2.5},{"r":"P8","g":"LST1","v":0.1},{"r":"P8","g":"METTL1","v":5.5},{"r":"P8","g":"MUC21","v":2.5},{"r":"P8","g":"NCDN","v":0.8},{"r":"P8","g":"NUBP1","v":3.5},{"r":"P8","g":"PDAP1","v":0.7},{"r":"P8","g":"PDCL","v":0.1},{"r":"P8","g":"PDDC1","v":4.2},{"r":"P8","g":"PDE4DIP","v":0.5},{"r":"P8","g":"PDE4DIP_2","v":0.1},{"r":"P8","g":"POLI","v":3.5},{"r":"P8","g":"POTEB","v":4.5},{"r":"P8","g":"POTED","v":4.0},{"r":"P8","g":"PPM1E","v":3.0},{"r":"P8","g":"PRORSD1P","v":-0.5},{"r":"P8","g":"PXDC1","v":5.0},{"r":"P8","g":"RABEP2","v":0.1},{"r":"P8","g":"SEPHS1","v":0.8},{"r":"P8","g":"SNAPC2","v":-0.3},{"r":"P8","g":"SNX19","v":0.2},{"r":"P8","g":"SPA17","v":0.1},{"r":"P8","g":"SPACA7","v":0.2},{"r":"P8","g":"TACC3","v":0.2},{"r":"P8","g":"TBC1D22B","v":4.0},{"r":"P8","g":"TGM4","v":3.5},{"r":"P8","g":"TIMELESS","v":2.5},{"r":"P8","g":"TMEM74","v":1.5},{"r":"P8","g":"TXLNB","v":-0.5},{"r":"P8","g":"TYMP","v":0.2},{"r":"P8","g":"UHRF1BP1L","v":0.2},{"r":"P8","g":"ZBTB3","v":0.2},{"r":"P8","g":"ZBTB33","v":-0.3},{"r":"P8","g":"ZCCHC7","v":0.2},{"r":"P8","g":"ZNF345","v":4.5}
]},
"layer": [
{
"mark": {"type": "rect", "stroke": "white", "strokeWidth": 1},
"encoding": {
"x": {"field": "g", "type": "nominal", "scale": {"paddingInner": 0, "paddingOuter": 0},
"axis": {"orient": "bottom", "title": null, "labelAngle": -90, "labelFontSize": 15, "labelColor": "#222", "labelPadding": 3, "tickSize": 5, "tickColor": "#777", "domain": false, "grid": false, "labelOverlap": false, "labelExpr": "replace(datum.label, '_2', '')", "zindex": 1}},
"y": {"field": "r", "type": "nominal", "scale": {"paddingInner": 0, "paddingOuter": 0},
"axis": {"title": "d", "titleAngle": 0, "titleX": -36, "titleY": -25, "titleAlign": "left", "titleBaseline": "alphabetic", "titleFontSize": 20, "titleFontWeight": "bold", "titleColor": "#111", "labelFontSize": 13.5, "labelColor": {"condition": {"test": "indexof(datum.value, 'P') == 0", "value": "#d43f3a"}, "value": "#222"}, "tickSize": 6, "tickColor": "#555", "labelPadding": 6, "domain": false, "grid": false}},
"color": {"field": "v", "type": "quantitative",
"scale": {"domain": [-8.05, 0, 8.05], "range": ["#e0625c", "#f7f7f7", "#3a4a9f"]},
"legend": {"title": "log₂(Signal/average signal of controls)", "orient": "right", "offset": 11, "padding": 0, "direction": "vertical", "gradientLength": 204, "gradientThickness": 22, "gradientStrokeColor": "#333", "gradientStrokeWidth": 1, "values": [7.5, 5, 2.5, 0, -2.5, -5, -7.5], "labelExpr": "datum.value == 0 ? '0' : replace(format(datum.value, '.1f'), '-', '−')", "labelFontSize": 13, "labelColor": "#333", "labelOffset": 8, "labelOverlap": false, "titleOrient": "right", "titleAngle": 90, "titleAnchor": "middle", "titleAlign": "center", "titleBaseline": "bottom", "titleFontSize": 14, "titleFontWeight": "normal", "titleColor": "#222", "titlePadding": 16, "titleLimit": 400}}
}
},
{
"data": {"values": [{}]},
"mark": {"type": "rule", "color": "#555", "strokeWidth": 1.2},
"encoding": {"y": {"datum": "P1", "type": "nominal", "bandPosition": 0}}
},
{
"mark": {"type": "rect", "opacity": 0},
"encoding": {"x": {"field": "g", "type": "nominal",
"axis": {"orient": "bottom", "title": null, "labelAngle": -90, "labelFontSize": 22, "labelColor": "#e8302c", "ticks": false, "tickSize": 0, "domain": false, "grid": false, "labelOverlap": false, "labelExpr": "indexof(['HK1','NCDN','TGM4'], datum.value) >= 0 ? '●' : ''", "labelPadding": {"condition": {"test": "datum.value == 'HK1'", "value": 39}, "value": 56}, "zindex": 1}}}
},
{
"mark": {"type": "rect", "opacity": 0},
"encoding": {"x": {"field": "g", "type": "nominal",
"axis": {"orient": "top", "labels": false, "ticks": false, "domain": false, "grid": false, "minExtent": 0, "title": "Shared autoantibody targets in participants with CBL-LOH by protein array", "titleFontSize": 16, "titleFontWeight": "normal", "titleColor": "#222", "titlePadding": 5, "titleX": 448, "titleAlign": "center"}}}
}
],
"resolve": {"axis": {"x": "independent"}}
}
